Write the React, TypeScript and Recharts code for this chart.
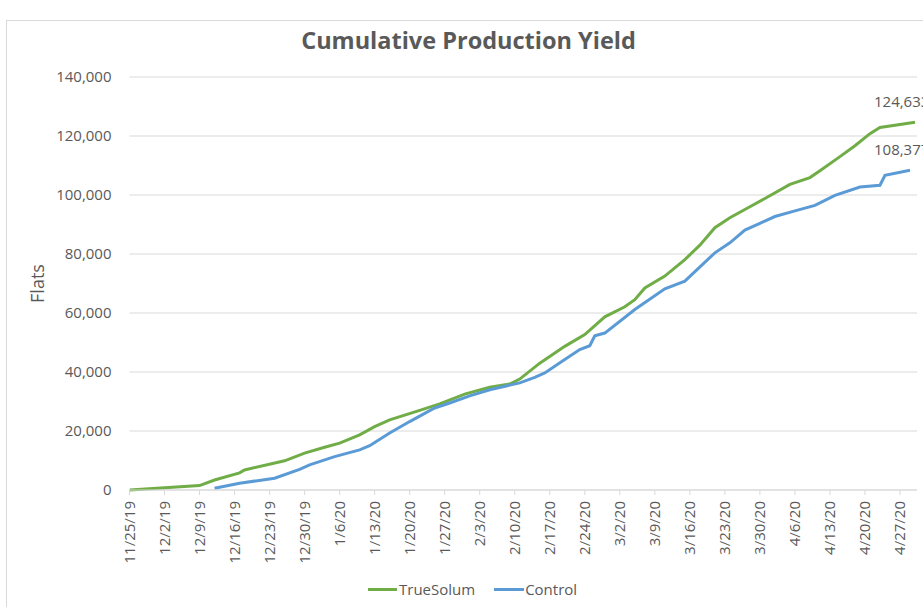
import React from 'react';
import { LineChart, Line, XAxis, YAxis, CartesianGrid, LabelList } from 'recharts';

const dateLabels = ['11/25/19','12/2/19','12/9/19','12/16/19','12/23/19','12/30/19','1/6/20','1/13/20','1/20/20','1/27/20','2/3/20','2/10/20','2/17/20','2/24/20','3/2/20','3/9/20','3/16/20','3/23/20','3/30/20','4/6/20','4/13/20','4/20/20','4/27/20'];
const tickDays = dateLabels.map((_, i) => i * 7);
const yTicks = [0, 20000, 40000, 60000, 80000, 100000, 120000, 140000];

// days since 11/25/19
const trueSolumDays = [0,14,17,22,23,31,35,39,42,46,49,52,58,62,67,72,76,78,82,87,91,95,99,101,103,107,111,114,117,120,124,127,132,136,138,142,145,148,150,157];
const trueSolumValues = [0,1500,3400,5800,6800,9900,12500,14500,15900,18700,21500,23800,27000,29200,32500,34800,35900,37600,43000,48700,52700,58700,62100,64500,68500,72500,78100,83000,88900,92300,96000,98800,103600,105900,108200,113000,116700,120800,122900,124633];

const controlDays = [17,22,29,34,36,41,46,48,52,56,61,64,68,72,78,81,83,87,90,92,93,95,101,107,111,117,120,123,126,129,133,137,141,146,150,151,156];
const controlValues = [600,2300,4000,7000,8500,11300,13600,15000,19300,23200,27800,29500,31900,34000,36300,38200,39700,44200,47600,48900,52300,53200,61200,68200,70800,80400,83800,88100,90400,92700,94600,96500,99900,102700,103300,106700,108377];

const trueSolumData = trueSolumDays.map((d, i) => ({ day: d, value: trueSolumValues[i] }));
const controlData = controlDays.map((d, i) => ({ day: d, value: controlValues[i] }));

const FONT = '"Open Sans", sans-serif';
const TEXT = '#595959';
const GREEN = '#70AD47';
const BLUE = '#5B9BD5';

const XTick = (props: any) => {
  const { x, y, payload } = props;
  return (
    <g transform={`translate(${x},${y})`}>
      <text transform="rotate(-90)" x={-4} y={0} dy="0.35em" textAnchor="end" fill={TEXT} fontSize={15} fontFamily={FONT}>
        {dateLabels[payload.index] ?? dateLabels[Math.round(payload.value / 7)]}
      </text>
    </g>
  );
};

const makeEndLabel = (len: number, shift: number) => (props: any) => {
  const { x, y, value, index } = props;
  if (index !== len - 1) return null;
  return (
    <text x={x - shift} y={y - 15} textAnchor="start" fill={TEXT} fontSize={15} fontFamily={FONT}>
      {Number(value).toLocaleString('en-US')}
    </text>
  );
};

export default function App() {
  return (
    <div style={{ position: 'fixed', left: 0, top: 0, width: 923, height: 607, overflow: 'hidden', background: '#fff' }}>
      <div style={{ position: 'absolute', left: 6, top: 20, width: 1000, height: 700, border: '1px solid #D9D9D9' }} />
      <div style={{ position: 'absolute', left: 0, top: 24, width: 937, textAlign: 'center', fontFamily: FONT, fontWeight: 700, fontSize: 23.5, color: TEXT }}>
        Cumulative Production Yield
      </div>
      <div style={{ position: 'absolute', left: 0, top: 0 }}>
        <LineChart width={923} height={607} margin={{ top: 77, right: 6, bottom: 37, left: 0 }}>
          <CartesianGrid horizontal vertical={false} stroke="#D9D9D9" />
          <XAxis
            type="number"
            dataKey="day"
            domain={[0, 157.4]}
            ticks={tickDays}
            interval={0}
            height={80}
            tick={<XTick />}
            tickSize={5}
            tickMargin={2}
            stroke="#D9D9D9"
            allowDataOverflow
          />
          <YAxis
            type="number"
            domain={[0, 140000]}
            ticks={yTicks}
            width={129.5}
            axisLine={false}
            tickLine={false}
            tickSize={0}
            tickMargin={18}
            tick={{ fill: TEXT, fontSize: 15, fontFamily: FONT }}
            tickFormatter={(v: number) => v.toLocaleString('en-US')}
            label={{ value: 'Flats', angle: -90, position: 'insideLeft', offset: 38, textAnchor: 'middle', fill: TEXT, fontSize: 18, fontFamily: FONT }}
          />
          <Line data={trueSolumData} dataKey="value" stroke={GREEN} strokeWidth={3} dot={false} isAnimationActive={false} name="TrueSolum">
            <LabelList dataKey="value" content={makeEndLabel(trueSolumData.length, 41)} />
          </Line>
          <Line data={controlData} dataKey="value" stroke={BLUE} strokeWidth={3} dot={false} isAnimationActive={false} name="Control">
            <LabelList dataKey="value" content={makeEndLabel(controlData.length, 36)} />
          </Line>
        </LineChart>
      </div>
      <div style={{ position: 'absolute', left: 368, top: 579, display: 'flex', alignItems: 'center', fontFamily: FONT, fontSize: 15, color: TEXT, whiteSpace: 'nowrap' }}>
        <span style={{ display: 'inline-block', width: 29, height: 3, background: GREEN, marginRight: 2 }} />
        <span>TrueSolum</span>
        <span style={{ display: 'inline-block', width: 30, height: 3, background: BLUE, marginLeft: 19, marginRight: 1 }} />
        <span>Control</span>
      </div>
    </div>
  );
}
